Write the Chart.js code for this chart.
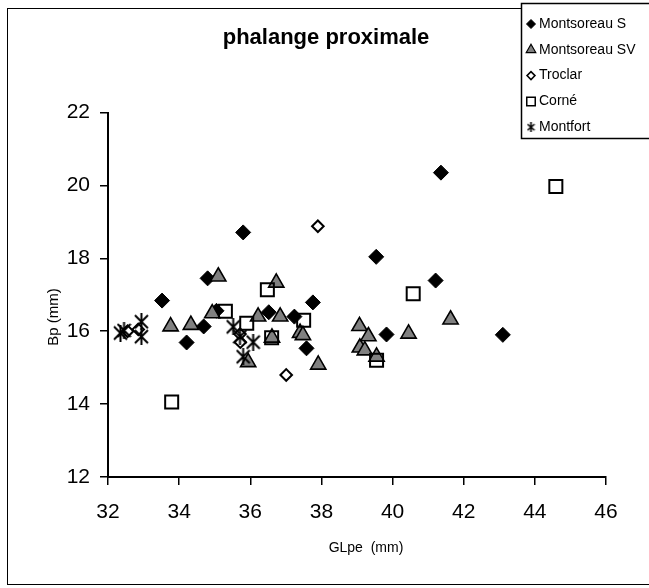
<!DOCTYPE html>
<html>
<head>
<meta charset="utf-8">
<script src="https://cdn.jsdelivr.net/npm/chart.js@4.4.1/dist/chart.umd.min.js"></script>
<style>
  body { margin: 0; background: #fff; }
</style>
</head>
<body>
<canvas id="chart" width="649" height="588"></canvas>
<script>
const chartTitle = 'phalange proximale';
const xTitle = 'GLpe  (mm)';
const yTitle = 'Bp (mm)';
const seriesNames = ['Montsoreau S', 'Montsoreau SV', 'Troclar', 'Corné', 'Montfort'];

// [GLpe, Bp] pairs
const montsoreauS = [
  [33.52, 16.84], [34.21, 15.69], [34.69, 16.13], [34.80, 17.45], [35.05, 16.56],
  [35.80, 18.71], [36.52, 16.52], [37.24, 16.40], [37.58, 15.53], [37.76, 16.79],
  [39.54, 18.04], [39.83, 15.91], [41.21, 17.39], [41.36, 20.35], [43.10, 15.90]
];
const montsoreauSV = [
  [33.76, 16.13], [34.33, 16.17], [34.93, 16.49], [35.10, 17.50], [35.94, 15.15],
  [36.22, 16.40], [36.61, 15.82], [36.73, 17.33], [36.84, 16.40], [37.40, 15.95],
  [37.48, 15.89], [37.91, 15.08], [39.07, 16.14], [39.08, 15.55], [39.22, 15.47],
  [39.32, 15.86], [39.55, 15.30], [40.45, 15.93], [41.63, 16.32]
];
const troclar = [
  [32.55, 16.00], [32.85, 16.05], [35.71, 15.92], [35.72, 15.70], [37.01, 14.80], [37.90, 18.88]
];
const corne = [
  [33.79, 14.06], [35.30, 16.55], [35.90, 16.22], [36.48, 17.14], [36.60, 15.82],
  [37.50, 16.30], [39.55, 15.20], [40.58, 17.03], [44.59, 19.97]
];
const montfort = [
  [32.35, 15.95], [32.45, 16.02], [32.94, 16.26], [32.94, 15.85],
  [35.52, 16.12], [35.71, 15.85], [36.08, 15.70], [35.80, 15.30]
];

const xMin = 32, xMax = 46, xStep = 2;
const yMin = 12, yMax = 22, yStep = 2;

const FONT = '"Liberation Sans", Arial, sans-serif';

function toPoints(arr) {
  return arr.map(p => ({ x: p[0], y: p[1] }));
}

// excel style star marker: an X with a vertical bar
function makeStar(w, h, lw) {
  const c = document.createElement('canvas');
  c.width = w; c.height = h;
  const g = c.getContext('2d');
  g.strokeStyle = '#000';
  g.lineWidth = lw;
  g.beginPath();
  g.moveTo(1, 2); g.lineTo(w - 1, h - 2);
  g.moveTo(w - 1, 2); g.lineTo(1, h - 2);
  g.moveTo(w / 2, 0); g.lineTo(w / 2, h);
  g.stroke();
  return c;
}
const starBig = makeStar(15, 17, 2);
const starSmall = makeStar(9, 10, 1.6);

const datasets = [
  { label: seriesNames[0], data: toPoints(montsoreauS), pointStyle: 'rectRot', pointRadius: 7.5,
    backgroundColor: '#000', borderColor: '#000', borderWidth: 1, order: 4 },
  { label: seriesNames[1], data: toPoints(montsoreauSV), pointStyle: 'triangle', pointRadius: 8.8,
    backgroundColor: '#808080', borderColor: '#000', borderWidth: 1.6, order: 3 },
  { label: seriesNames[2], data: toPoints(troclar), pointStyle: 'rectRot', pointRadius: 5.8,
    backgroundColor: '#fff', borderColor: '#000', borderWidth: 2, order: 2 },
  { label: seriesNames[3], data: toPoints(corne), pointStyle: 'rect', pointRadius: 9.2,
    backgroundColor: 'rgba(0,0,0,0)', borderColor: '#000', borderWidth: 2, order: 1 },
  { label: seriesNames[4], data: toPoints(montfort), pointStyle: starBig, pointRadius: 8,
    backgroundColor: '#000', borderColor: '#000', borderWidth: 1, order: 0 }
];
datasets.forEach(d => { d.pointHoverRadius = d.pointRadius; });

// legend marker look, same order as the datasets
const legendIcons = [
  { pointStyle: 'rectRot', radius: 4.5, borderWidth: 1, fill: '#000' },
  { pointStyle: 'triangle', radius: 5.5, borderWidth: 1.2, fill: '#808080' },
  { pointStyle: 'rectRot', radius: 4, borderWidth: 1.5, fill: '#fff' },
  { pointStyle: 'rect', radius: 6, borderWidth: 1.5, fill: '#fff' },
  { pointStyle: starSmall, radius: 5, borderWidth: 1, fill: '#000' }
];

const framePlugin = {
  id: 'frame',
  beforeDraw(chart) {
    const ctx = chart.ctx;
    ctx.save();
    ctx.fillStyle = '#fff';
    ctx.fillRect(0, 0, chart.width, chart.height);
    ctx.strokeStyle = '#000';
    ctx.lineWidth = 1;
    ctx.strokeRect(7.5, 8.5, 700, 576);
    ctx.restore();
  },
  afterDraw(chart) {
    const ctx = chart.ctx;
    ctx.save();
    ctx.fillStyle = '#000';
    ctx.textAlign = 'center';
    ctx.textBaseline = 'middle';
    ctx.font = 'bold 22px ' + FONT;
    ctx.fillText(chartTitle, 326, 38);
    ctx.font = '14px ' + FONT;
    ctx.fillText(xTitle, 366, 548);
    ctx.translate(54, 317);
    ctx.rotate(-Math.PI / 2);
    ctx.font = '15px ' + FONT;
    ctx.fillText(yTitle, 0, 0);
    ctx.restore();
  }
};

const boxLegend = {
  id: 'boxLegend',
  afterDraw(chart) {
    const ctx = chart.ctx;
    ctx.save();
    ctx.fillStyle = '#fff';
    ctx.fillRect(521, 3, 140, 136);
    ctx.strokeStyle = '#000';
    ctx.lineWidth = 1.5;
    ctx.strokeRect(521.5, 3.5, 140, 135);
    ctx.font = '14px ' + FONT;
    ctx.textBaseline = 'middle';
    chart.data.datasets.forEach((ds, i) => {
      const y = 24 + i * 25.8;
      const ic = legendIcons[i];
      ctx.fillStyle = ic.fill;
      ctx.strokeStyle = '#000';
      ctx.lineWidth = ic.borderWidth;
      Chart.helpers.drawPoint(ctx, { pointStyle: ic.pointStyle, radius: ic.radius, rotation: 0, borderWidth: ic.borderWidth }, 531, y);
      ctx.fillStyle = '#000';
      ctx.fillText(ds.label, 539, y);
    });
    ctx.restore();
  }
};

new Chart(document.getElementById('chart'), {
  type: 'scatter',
  data: { datasets: datasets },
  plugins: [framePlugin, boxLegend],
  options: {
    responsive: false,
    devicePixelRatio: 1,
    animation: false,
    layout: { padding: { left: 7, right: 43, top: 112.5, bottom: 4 } },
    plugins: {
      legend: { display: false },
      tooltip: { enabled: false },
      title: { display: false }
    },
    scales: {
      x: {
        type: 'linear',
        min: xMin, max: xMax,
        afterFit: s => { s.height = 107; },
        ticks: { stepSize: xStep, color: '#000', padding: 15, font: { family: FONT, size: 21 } },
        grid: { drawOnChartArea: false, drawTicks: true, tickLength: 8, color: '#000', lineWidth: 1.5 },
        border: { color: '#000', width: 2 }
      },
      y: {
        type: 'linear',
        min: yMin, max: yMax,
        afterFit: s => { s.width = 101; },
        ticks: { stepSize: yStep, color: '#000', padding: 10, font: { family: FONT, size: 21 } },
        grid: { drawOnChartArea: false, drawTicks: true, tickLength: 8, color: '#000', lineWidth: 1.5 },
        border: { color: '#000', width: 2 }
      }
    }
  }
});
</script>
</body>
</html>
